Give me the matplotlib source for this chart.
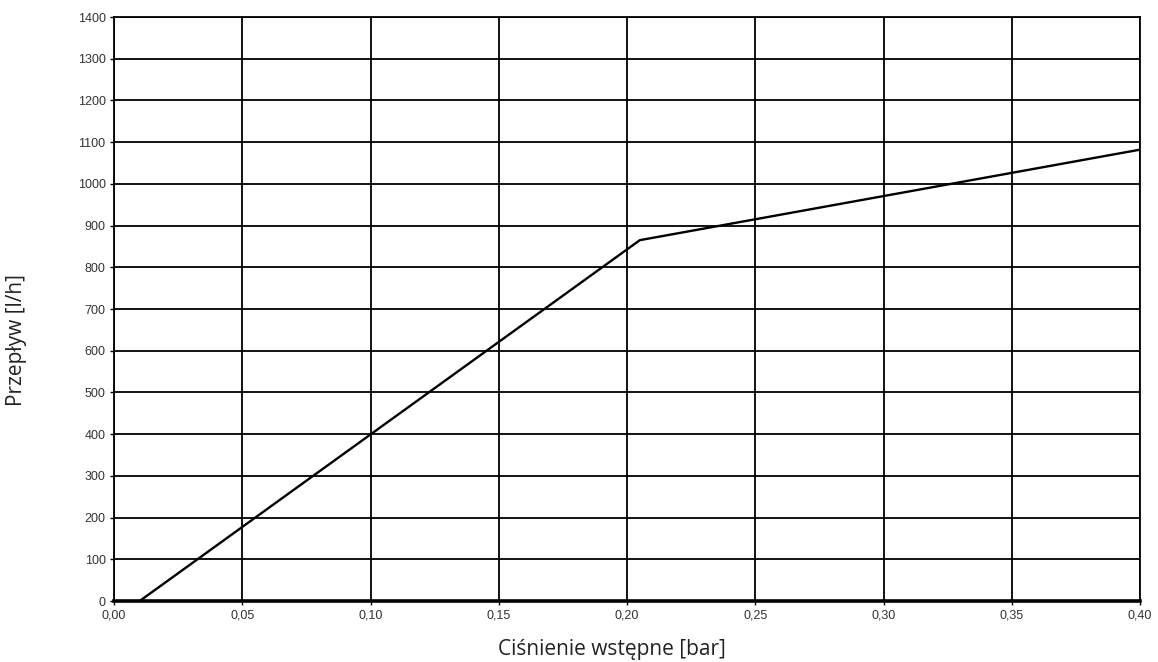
import matplotlib.pyplot as plt
from matplotlib.ticker import FuncFormatter

# characteristic: pressure [bar] vs flow [l/h]
pressure = [0.01, 0.205, 0.40]
flow = [0, 865, 1082]

x_ticks = [0.00, 0.05, 0.10, 0.15, 0.20, 0.25, 0.30, 0.35, 0.40]
y_ticks = list(range(0, 1401, 100))

W, H = 1158, 662
fig = plt.figure(figsize=(W / 100, H / 100), dpi=100)
ax = fig.add_axes([114 / W, 1 - 601 / H, 1026 / W, 584 / H])

ax.plot(pressure, flow, color='black', linewidth=1.7, zorder=3)

ax.set_xlim(0, 0.40)
ax.set_ylim(0, 1400)
ax.set_xticks(x_ticks)
ax.set_yticks(y_ticks)
ax.xaxis.set_major_formatter(FuncFormatter(lambda v, p: f"{v:.2f}".replace('.', ',')))
ax.grid(True, color='black', linewidth=1.3)
ax.set_axisbelow(True)

for s in ax.spines.values():
    s.set_linewidth(1.3)
ax.spines['bottom'].set_linewidth(2.6)

ax.tick_params(axis='both', direction='out', length=3, width=1.0, color='black',
               labelsize=9, labelcolor='#333333', pad=3)
for lbl in ax.get_xticklabels() + ax.get_yticklabels():
    lbl.set_family('Liberation Sans')

# axis titles (placed like in the original, slightly off-centre)
fig.text(612 / W, 1 - 649 / H, 'Ciśnienie wstępne [bar]', fontsize=15,
         family='Open Sans', color='#222222', ha='center', va='center')
fig.text(17 / W, 1 - 340 / H, 'Przepływ [l/h]', fontsize=15, rotation=90,
         family='Open Sans', color='#222222', ha='center', va='center')

fig.savefig('out.png', dpi=100)
